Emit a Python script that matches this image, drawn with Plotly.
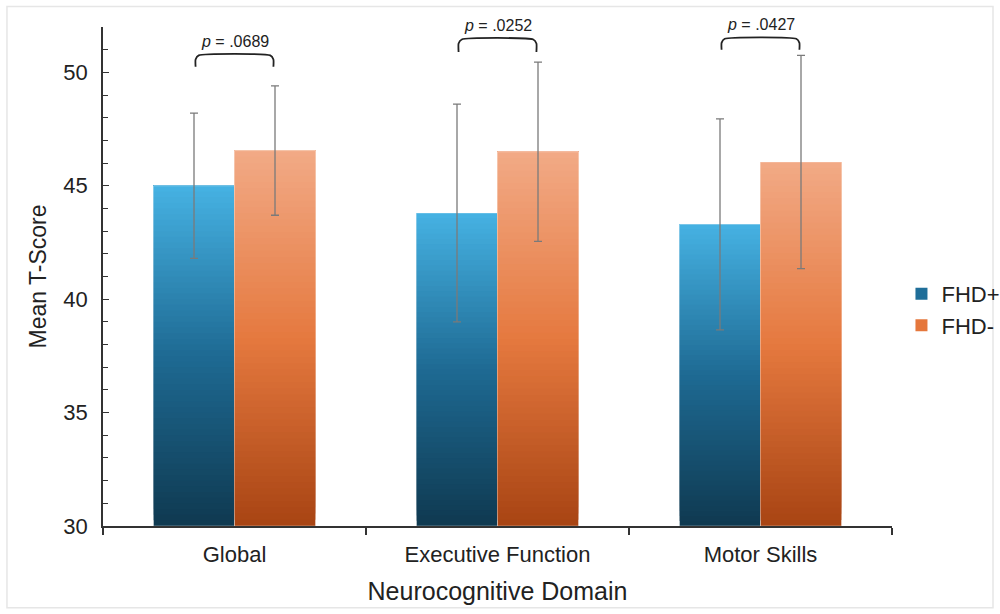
import plotly.graph_objects as go

# Data
domains = ["Global", "Executive Function", "Motor Skills"]
fhd_pos_mean = [45.0, 43.8, 43.3]
fhd_pos_err = [3.2, 4.8, 4.65]
fhd_neg_mean = [46.55, 46.5, 46.05]
fhd_neg_err = [2.85, 3.95, 4.7]
p_labels = [".0689", ".0252", ".0427"]

Y_MIN, Y_MAX = 30, 52
FONT = "Arial, Liberation Sans, sans-serif"
BAR_W = 0.308
N_SLICES = 60

# gradient stops: (fraction from top, colour)
GRAD = {
    "FHD+": [(0.0, (0x46, 0xB2, 0xE3)), (0.5, (0x1E, 0x6A, 0x93)), (1.0, (0x0F, 0x39, 0x50))],
    "FHD-": [(0.0, (0xF2, 0xAA, 0x86)), (0.5, (0xE5, 0x79, 0x3F)), (1.0, (0xA8, 0x44, 0x13))],
}
LEGEND_COL = {"FHD+": "#1F6E99", "FHD-": "#E5773C"}


def grad_color(stops, t):
    for (t0, c0), (t1, c1) in zip(stops, stops[1:]):
        if t0 <= t <= t1:
            u = (t - t0) / (t1 - t0)
            c = [round(a + (b - a) * u) for a, b in zip(c0, c1)]
            return f"rgb({c[0]},{c[1]},{c[2]})"
    c = stops[-1][1]
    return f"rgb({c[0]},{c[1]},{c[2]})"


def y_paper(v):
    return (v - Y_MIN) / (Y_MAX - Y_MIN)


fig = go.Figure()
xpos = list(range(len(domains)))

series = [
    ("FHD+", fhd_pos_mean, fhd_pos_err, -BAR_W),
    ("FHD-", fhd_neg_mean, fhd_neg_err, 0.0),
]

for name, means, errs, off in series:
    stops = GRAD[name]
    # gradient fill: each slice runs from its base up to the bar top,
    # later slices overpaint the upper part so there are no seams
    for k in range(N_SLICES):
        frac_bottom = k / N_SLICES
        bases = [Y_MIN + (m - Y_MIN) * frac_bottom for m in means]
        heights = [m - b for m, b in zip(means, bases)]
        t_from_top = 1 - (k + 0.5) / N_SLICES
        fig.add_trace(go.Bar(
            x=xpos, y=heights, base=bases,
            width=BAR_W, offset=off,
            marker=dict(color=grad_color(stops, t_from_top), line=dict(width=0)),
            showlegend=False, hoverinfo="skip",
        ))
    # transparent bar carrying the error bars and a faint light edge
    fig.add_trace(go.Bar(
        x=xpos, y=[m - Y_MIN for m in means], base=Y_MIN,
        width=BAR_W, offset=off,
        marker=dict(color="rgba(0,0,0,0)", line=dict(width=1, color="rgba(255,255,255,0.35)")),
        error_y=dict(type="data", array=errs, visible=True,
                     color="#7a7a7a", thickness=1.3, width=4),
        showlegend=False, name=name,
    ))

# legend swatches
for name, *_ in series:
    fig.add_trace(go.Scatter(
        x=[None], y=[None], mode="markers", name=name,
        marker=dict(symbol="square", size=11, color=LEGEND_COL[name]),
    ))

# significance brackets: (bracket top, leg bottom)
bracket_y = [(50.75, 50.25), (51.45, 50.9), (51.48, 51.0)]
half = 0.148
for i, (p, (ytop, yleg)) in enumerate(zip(p_labels, bracket_y)):
    x1, x2 = i - half, i + half
    r = 0.012
    dy = 0.18
    fig.add_trace(go.Scatter(
        x=[x1, x1, x1 + r, x2 - r, x2, x2],
        y=[yleg, ytop - dy, ytop, ytop, ytop - dy, yleg],
        mode="lines", line=dict(color="#222222", width=1.8, shape="spline", smoothing=0.5),
        showlegend=False, hoverinfo="skip", cliponaxis=False,
    ))
    fig.add_annotation(
        x=i, y=y_paper(ytop + 0.62), xref="x", yref="paper",
        xanchor="center", yanchor="middle",
        text=f"<i>p</i> = {p}", showarrow=False,
        font=dict(family=FONT, size=16, color="#222222"),
    )

# light frame around the whole figure
fig.add_shape(type="rect", xref="paper", yref="paper",
              x0=-0.1217, x1=1.128, y0=-0.164, y1=1.0413,
              line=dict(color="#e6e6e6", width=1.5), layer="below")

fig.update_layout(
    width=1000, height=614,
    margin=dict(l=103, r=108, t=27, b=88, autoexpand=False),
    paper_bgcolor="white", plot_bgcolor="white",
    font=dict(family=FONT, color="#222222"),
    barmode="overlay",
    showlegend=True,
    legend=dict(x=1.012, y=0.433, xanchor="left", yanchor="middle",
                bgcolor="rgba(0,0,0,0)",
                font=dict(family=FONT, size=22, color="#222222"),
                itemsizing="constant", tracegroupgap=0),
    xaxis=dict(
        range=[-0.5, 2.5],
        tickvals=xpos, ticktext=domains,
        ticks="", showgrid=False, zeroline=False,
        showline=True, linecolor="#333333", linewidth=1.5,
        tickfont=dict(size=22, color="#222222"),
        ticklabelstandoff=8,
        minor=dict(tickvals=[-0.5, 0.5, 1.5, 2.5], ticks="outside",
                   ticklen=7, tickcolor="#333333", tickwidth=1.5),
        title=dict(text="Neurocognitive Domain", font=dict(size=25, color="#222222"), standoff=16),
    ),
    yaxis=dict(
        range=[Y_MIN, Y_MAX],
        tickvals=[30, 35, 40, 45, 50],
        ticks="inside", ticklen=6, tickcolor="#333333", tickwidth=1.3,
        showgrid=False, zeroline=False,
        showline=True, linecolor="#333333", linewidth=1.5,
        tickfont=dict(size=22, color="#222222"),
        ticklabelstandoff=9,
        minor=dict(dtick=1, tick0=30, ticks="inside", ticklen=5,
                   tickcolor="#333333", tickwidth=1.2, showgrid=False),
        title=dict(text="Mean T-Score", font=dict(size=23, color="#222222"), standoff=10),
    ),
)

fig.write_html("out.html")
